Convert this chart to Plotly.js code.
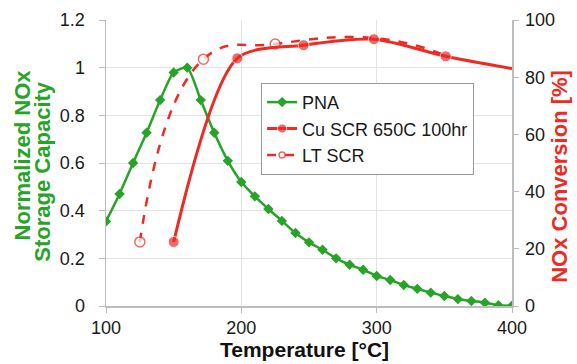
<!DOCTYPE html>
<html>
<head>
<meta charset="utf-8">
<script src="https://cdn.plot.ly/plotly-3.0.1.min.js"></script>
<style>html,body{margin:0;padding:0;background:#fff;}#chart{width:577px;height:364px;}</style>
</head>
<body>
<div id="chart"></div>
<script>
// Data
var pnaTemps = [100,110,120,130,140,150,160,170,180,190,200,210,220,230,240,250,260,270,280,290,300,310,320,330,340,350,360,370,380,390,400];
var pnaValues = [0.355,0.47,0.60,0.727,0.864,0.98,1.0,0.864,0.727,0.609,0.52,0.46,0.407,0.357,0.306,0.267,0.236,0.20,0.173,0.152,0.126,0.109,0.088,0.072,0.056,0.042,0.029,0.021,0.014,0.003,0.001];
var cuTemps = [150,197,246,298,351,400];
var cuValues = [22.4,86.6,91.2,93.3,87.3,83];
var cuMarked = [true,true,true,true,true,false];
var ltTemps = [125,172,225,300,350];
var ltValues = [22.4,86.3,91.6,93.6,87.8];
var ltMarked = [true,true,true,false,false];
var leftTicks = [0,0.2,0.4,0.6,0.8,1,1.2];
var leftTickText = ['0','0.2','0.4','0.6','0.8','1','1.2'];
var rightTicks = [0,20,40,60,80,100];
var xTicks = [100,200,300,400];

var GREEN = '#27a327';
var RED = '#ee2a24';

var traces = [
  {x: pnaTemps, y: pnaValues, name: 'PNA', type: 'scatter', mode: 'lines+markers',
   line: {color: GREEN, width: 2.5, shape: 'spline', smoothing: 0.6},
   marker: {symbol: 'diamond', size: 8, color: GREEN}, legendrank: 1},
  {x: ltTemps, y: ltValues, name: 'LT SCR', type: 'scatter', mode: 'lines+markers', yaxis: 'y2',
   line: {color: RED, width: 2.5, dash: 'dash', shape: 'spline', smoothing: 1.3},
   marker: {symbol: 'circle', size: ltMarked.map(function(m){return m ? 10 : 0;}), color: '#ffffff', line: {color: RED, width: 1.5}},
   legendrank: 3},
  {x: cuTemps, y: cuValues, name: 'Cu SCR 650C 100hr', type: 'scatter', mode: 'lines+markers', yaxis: 'y2',
   line: {color: RED, width: 3, shape: 'spline', smoothing: 0.8},
   marker: {symbol: 'circle', size: cuMarked.map(function(m){return m ? 11 : 0;}), color: RED},
   legendrank: 2}
];

var axisLine = '#bdbdbd';
var gridCol = '#e3e3e3';
var tickFont = {family: 'Arial, Liberation Sans, sans-serif', size: 18, color: '#1a1a1a'};
var titleFont = {family: 'Arial, Liberation Sans, sans-serif', size: 22};

var layout = {
  width: 577, height: 364,
  margin: {l: 106, r: 65, t: 20, b: 58},
  paper_bgcolor: '#ffffff', plot_bgcolor: '#ffffff',
  showlegend: true,
  legend: {x: 0.382, y: 0.78, xanchor: 'left', yanchor: 'top',
    bgcolor: '#ffffff', bordercolor: '#9a9a9a', borderwidth: 1,
    font: {family: 'Arial, Liberation Sans, sans-serif', size: 18, color: '#1a1a1a'},
    traceorder: 'normal'},
  xaxis: {range: [100, 400], tickvals: xTicks, ticktext: xTicks.map(String),
    showgrid: true, gridcolor: gridCol, gridwidth: 1,
    showline: true, linecolor: axisLine, linewidth: 1.5,
    ticks: 'outside', ticklen: 5, tickcolor: axisLine,
    tickfont: tickFont, zeroline: false},
  yaxis: {range: [0, 1.2], tickvals: leftTicks, ticktext: leftTickText,
    showgrid: true, gridcolor: gridCol, gridwidth: 1,
    showline: true, linecolor: axisLine, linewidth: 1.5,
    ticks: 'outside', ticklen: 6, tickcolor: axisLine, ticklabelstandoff: 10,
    tickfont: tickFont, zeroline: false},
  yaxis2: {range: [0, 100], overlaying: 'y', side: 'right', tickvals: rightTicks,
    showgrid: false, showline: true, linecolor: axisLine, linewidth: 1.5,
    ticks: 'outside', ticklen: 5, tickcolor: axisLine, ticklabelstandoff: 3,
    tickfont: tickFont, zeroline: false},
  annotations: [
    {text: '<b>Temperature [°C]</b>', xref: 'paper', yref: 'paper', x: 0.489, y: -0.153,
     xanchor: 'center', yanchor: 'middle', showarrow: false, font: {family: titleFont.family, size: 21, color: '#111111'}},
    {text: '<b>Normalized NOx</b>', xref: 'paper', yref: 'paper', x: -0.207, y: 0.53, textangle: -90,
     xanchor: 'center', yanchor: 'middle', showarrow: false, font: Object.assign({color: GREEN}, titleFont)},
    {text: '<b>Storage Capacity</b>', xref: 'paper', yref: 'paper', x: -0.155, y: 0.47, textangle: -90,
     xanchor: 'center', yanchor: 'middle', showarrow: false, font: Object.assign({color: GREEN}, titleFont)},
    {text: '<b>NOx Conversion [%]</b>', xref: 'paper', yref: 'paper', x: 1.118, y: 0.455, textangle: -90,
     xanchor: 'center', yanchor: 'middle', showarrow: false, font: Object.assign({color: RED}, titleFont)}
  ]
};

Plotly.newPlot('chart', traces, layout, {displayModeBar: false, staticPlot: true});
</script>
</body>
</html>
